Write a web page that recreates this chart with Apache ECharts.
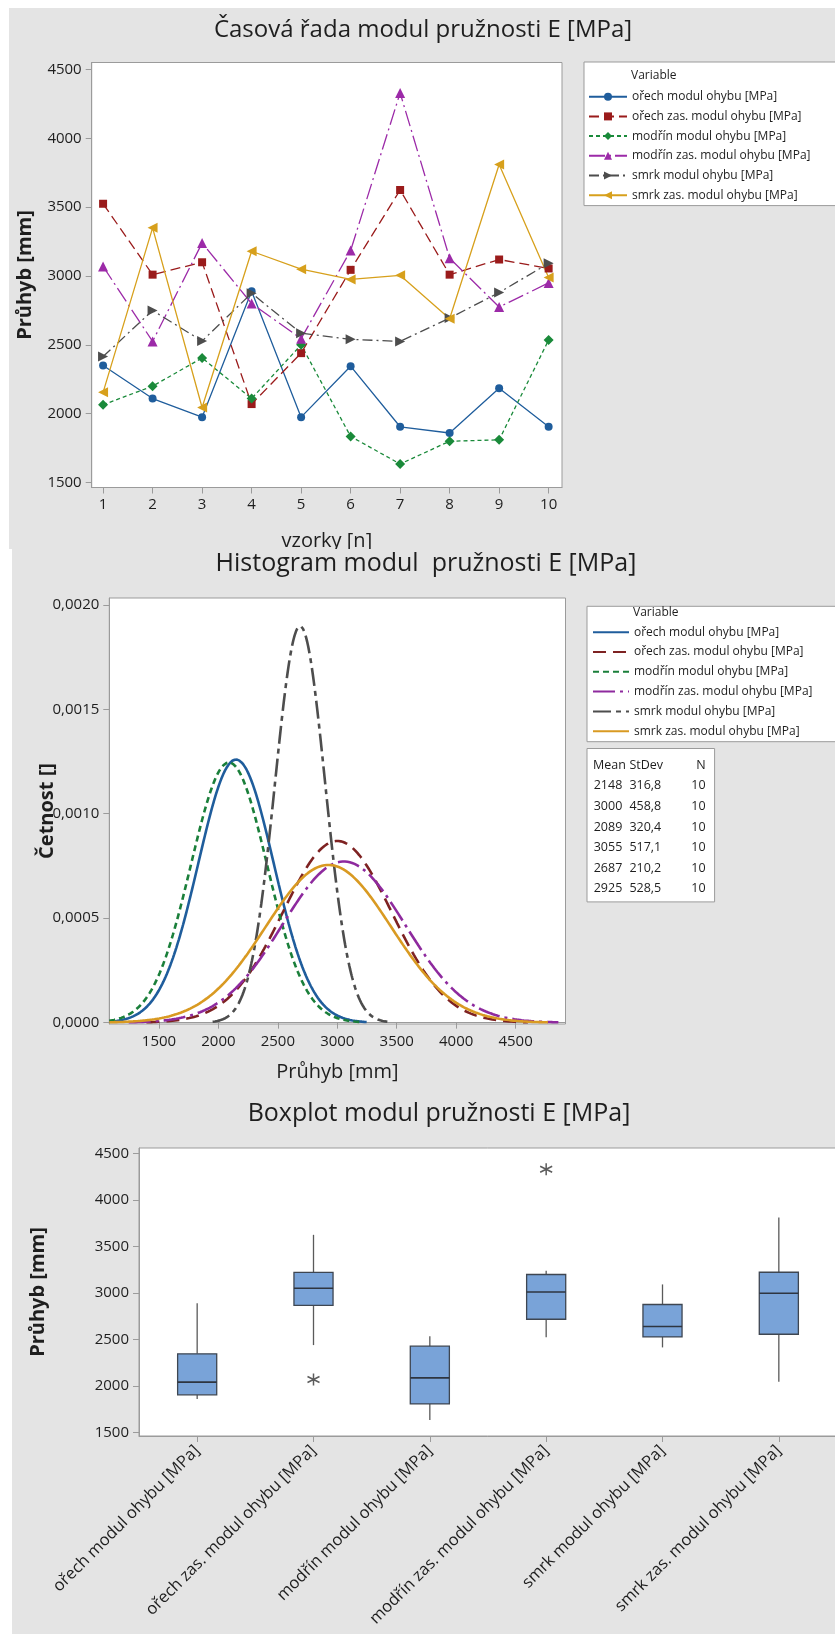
<!DOCTYPE html>
<html>
<head>
<meta charset="utf-8">
<title>Modul pružnosti E [MPa]</title>
<script src="https://cdn.jsdelivr.net/npm/echarts@6/dist/echarts.min.js"></script>
<style>
  html, body { margin: 0; padding: 0; background: #fff; width: 835px; height: 1634px; overflow: hidden; }
  .panel { position: absolute; background: #e4e4e4; }
  #timeSeries { left: 9px; top: 8px; width: 826px; height: 541px; }
  #histogram { left: 12px; top: 549px; width: 823px; height: 540px; }
  #boxplot { left: 12px; top: 1089px; width: 823px; height: 545px; }
</style>
</head>
<body>
<div id="timeSeries" class="panel"></div>
<div id="histogram" class="panel"></div>
<div id="boxplot" class="panel"></div>
<script>
// ---- data ----
const variableNames = [
  'ořech modul ohybu [MPa]',
  'ořech zas. modul ohybu [MPa]',
  'modřín modul ohybu [MPa]',
  'modřín zas. modul ohybu [MPa]',
  'smrk modul ohybu [MPa]',
  'smrk zas. modul ohybu [MPa]'
];
const sampleNo = [1, 2, 3, 4, 5, 6, 7, 8, 9, 10];
const orech     = [2350, 2110, 1975, 2890, 1975, 2345, 1905, 1860, 2185, 1905];
const orechZas  = [3525, 3010, 3100, 2070, 2440, 3045, 3625, 3010, 3120, 3055];
const modrin    = [2065, 2200, 2405, 2110, 2500, 1835, 1635, 1800, 1810, 2535];
const modrinZas = [3070, 2525, 3240, 2800, 2545, 3185, 4330, 3130, 2775, 2950];
const smrk      = [2415, 2750, 2528, 2875, 2585, 2540, 2525, 2695, 2880, 3092];
const smrkZas   = [2155, 3350, 2045, 3180, 3050, 2975, 3005, 2690, 3810, 2990];

// fitted normal parameters (Mean, StDev, N)
const means  = [2148, 3000, 2089, 3055, 2687, 2925];
const stdevs = [316.8, 458.8, 320.4, 517.1, 210.2, 528.5];
const counts = [10, 10, 10, 10, 10, 10];

// tick labels
const modulTicks = [1500, 2000, 2500, 3000, 3500, 4000, 4500];
const histXTicks = [1500, 2000, 2500, 3000, 3500, 4000, 4500];
const histYTicks = [0, 0.0005, 0.001, 0.0015, 0.002];

const measurements = [orech, orechZas, modrin, modrinZas, smrk, smrkZas];

// ---- styles ----
const FONT = "'Open Sans', 'Noto Sans', sans-serif";
const TXT = '#1e1e1e';
const FRAME = '#9b9b9b';
const colors = ['#1f5d9c', '#9a1b1b', '#1a8a3a', '#9c2aa8', '#4d4d4d', '#d7a01c'];
const histColors = ['#1f5d9c', '#7e2222', '#1a7f3a', '#8e2a9e', '#4d4d4d', '#d99a22'];
const markerSymbols = ['circle', 'rect', 'diamond', 'triangle',
  'path://M0,0L10,5L0,10Z', 'path://M10,0L0,5L10,10Z'];
const markerSizes = [8, 8, 10, 10, 10, 10];
const tsDash = ['solid', [10, 5], [4, 3], [16, 4, 2, 4], [10, 4, 2, 4], 'solid'];
const histDash = ['solid', [13, 7], [6, 4], [22, 5, 3, 5], [18, 5, 5, 5], 'solid'];

function axisCommon(ticks, fmt) {
  return {
    nameMoveOverlap: false,
    axisLine: { show: true, lineStyle: { color: FRAME, width: 1 } },
    axisTick: { show: true, length: 6, lineStyle: { color: FRAME }, customValues: ticks },
    axisLabel: { customValues: ticks, fontSize: 15, color: TXT, fontFamily: FONT, margin: 10,
                 formatter: fmt || (v => String(v)) },
    splitLine: { show: false }
  };
}

function plotGrid(left, top, width, height) {
  return { left: left, top: top, width: width, height: height, show: true,
           outerBoundsMode: 'none', containLabel: false,
           backgroundColor: '#fff', borderColor: FRAME, borderWidth: 1 };
}

function titleText(text, x, y, size) {
  return {
    type: 'text', x: x, y: y, z: 10,
    style: { text: text, fontSize: size, fontFamily: FONT, fill: TXT,
             textAlign: 'center', textVerticalAlign: 'middle' }
  };
}

// ---- time series ----
const tsChart = echarts.init(document.getElementById('timeSeries'));
tsChart.setOption({
  animation: false,
  textStyle: { fontFamily: FONT },
  grid: plotGrid(82.7, 54.5, 470.3, 425),
  xAxis: Object.assign({
    type: 'value', min: 0.77, max: 10.27,
    name: 'vzorky [n]', nameLocation: 'middle', nameGap: 44,
    nameTextStyle: { fontSize: 20, color: TXT, fontFamily: FONT }
  }, axisCommon(sampleNo)),
  yAxis: Object.assign({
    type: 'value', min: 1464, max: 4551,
    name: 'Průhyb [mm]', nameLocation: 'middle', nameGap: 56,
    nameTextStyle: { fontSize: 20, fontWeight: 'bold', color: TXT, fontFamily: FONT }
  }, axisCommon(modulTicks)),
  legend: {
    orient: 'vertical', left: 579, top: 81.7, padding: 0,
    itemWidth: 38, itemHeight: 10, itemGap: 5.7,
    textStyle: { fontSize: 12, color: TXT, fontFamily: FONT, lineHeight: 14 },
    data: variableNames
  },
  graphic: [
    titleText('Časová řada modul pružnosti E [MPa]', 414, 21.8, 24),
    { type: 'rect', shape: { x: 575, y: 54, width: 260, height: 143.6 },
      style: { fill: '#fff', stroke: FRAME, lineWidth: 1 }, z: 0 },
    { type: 'text', x: 622, y: 68, z: 10,
      style: { text: 'Variable', fontSize: 12, fontFamily: FONT, fill: TXT,
               textAlign: 'left', textVerticalAlign: 'middle' } }
  ],
  series: variableNames.map((name, i) => ({
    name: name,
    type: 'line',
    data: sampleNo.map((n, k) => [n, measurements[i][k]]),
    symbol: markerSymbols[i],
    symbolSize: markerSizes[i],
    itemStyle: { color: colors[i] },
    lineStyle: { color: colors[i], width: 1.3, type: tsDash[i] }
  }))
});

// ---- histogram (fitted normal curves) ----
const HIST_MIN = 1082, HIST_MAX = 4920;
function normalCurve(mean, sd) {
  const pts = [];
  const from = Math.max(HIST_MIN, mean - 3.5 * sd);
  const to = Math.min(HIST_MAX, mean + 3.5 * sd);
  for (let x = from; x <= to; x += 5) {
    const z = (x - mean) / sd;
    pts.push([x, Math.exp(-0.5 * z * z) / (sd * Math.sqrt(2 * Math.PI))]);
  }
  return pts;
}
const statRows = means.map((m, i) =>
  [String(m), stdevs[i].toFixed(1).replace('.', ','), String(counts[i])]);

const STAT_FONT = 12.5;
function statText(text, x, y, align) {
  return { type: 'text', x: x, y: y, z: 10,
    style: { text: text, fontSize: STAT_FONT, fontFamily: FONT, fill: TXT,
             textAlign: align || 'left', textVerticalAlign: 'middle' } };
}
const statGraphics = [
  { type: 'rect', shape: { x: 575, y: 199.5, width: 127.6, height: 153.4 },
    style: { fill: '#fff', stroke: FRAME, lineWidth: 1 }, z: 0 },
  statText('Mean', 581, 216.5),
  statText('StDev', 617.4, 216.5),
  statText('N', 693.6, 216.5, 'right')
];
statRows.forEach((row, r) => {
  const y = 236.8 + r * 20.6;
  statGraphics.push(statText(row[0], 581.7, y), statText(row[1], 617.4, y),
                    statText(row[2], 693.6, y, 'right'));
});

const histChart = echarts.init(document.getElementById('histogram'));
histChart.setOption({
  animation: false,
  textStyle: { fontFamily: FONT },
  grid: plotGrid(97.3, 49, 456.2, 426),
  xAxis: Object.assign({
    type: 'value', min: HIST_MIN, max: HIST_MAX,
    name: 'Průhyb [mm]', nameLocation: 'middle', nameGap: 38,
    nameTextStyle: { fontSize: 20, color: TXT, fontFamily: FONT }
  }, axisCommon(histXTicks)),
  yAxis: Object.assign({
    type: 'value', min: -0.0000065, max: 0.0020325
  }, axisCommon(histYTicks, v => v.toFixed(4).replace('.', ','))),
  legend: {
    orient: 'vertical', left: 575, top: 71.2,
    itemWidth: 36, itemHeight: 10, itemGap: 5.8,
    itemStyle: { opacity: 0 },
    textStyle: { fontSize: 12, color: TXT, fontFamily: FONT, lineHeight: 14 },
    data: variableNames
  },
  graphic: [
    titleText('Histogram modul  pružnosti E [MPa]', 414, 15, 25),
    // y-axis title
    { type: 'text', x: 35.6, y: 262, rotation: Math.PI / 2, z: 10,
      style: { text: 'Četnost []', fontSize: 20, fontWeight: 'bold', fontFamily: FONT, fill: TXT,
               textAlign: 'center', textVerticalAlign: 'middle' } },
    { type: 'rect', shape: { x: 575, y: 57.3, width: 260, height: 135.4 },
      style: { fill: '#fff', stroke: FRAME, lineWidth: 1 }, z: 0 },
    { type: 'text', x: 621, y: 63.3, z: 10,
      style: { text: 'Variable', fontSize: 12, fontFamily: FONT, fill: TXT,
               textAlign: 'left', textVerticalAlign: 'middle' } }
  ].concat(statGraphics),
  series: variableNames.map((name, i) => ({
    name: name,
    type: 'line',
    data: normalCurve(means[i], stdevs[i]),
    symbol: 'none',
    itemStyle: { color: histColors[i] },
    lineStyle: { color: histColors[i], width: 2.6, type: histDash[i] }
  }))
});

// ---- boxplot (Minitab quartile method, 1.5 IQR whiskers) ----
function quantile(sorted, p) {
  const pos = p * (sorted.length + 1);
  const lo = Math.floor(pos);
  if (lo < 1) return sorted[0];
  if (lo >= sorted.length) return sorted[sorted.length - 1];
  return sorted[lo - 1] + (pos - lo) * (sorted[lo] - sorted[lo - 1]);
}
const boxStats = [];
const outliers = [];
measurements.forEach((vals, i) => {
  const s = vals.slice().sort((a, b) => a - b);
  const q1 = quantile(s, 0.25), med = quantile(s, 0.5), q3 = quantile(s, 0.75);
  const iqr = q3 - q1;
  const inside = s.filter(v => v >= q1 - 1.5 * iqr && v <= q3 + 1.5 * iqr);
  boxStats.push([i, inside[0], q1, med, q3, inside[inside.length - 1]]);
  s.filter(v => v < q1 - 1.5 * iqr || v > q3 + 1.5 * iqr).forEach(v => outliers.push([i, v]));
});

const boxChart = echarts.init(document.getElementById('boxplot'));
boxChart.setOption({
  animation: false,
  textStyle: { fontFamily: FONT },
  grid: plotGrid(127, 59, 698, 288),
  xAxis: {
    type: 'category', data: variableNames, boundaryGap: true,
    axisLine: { show: true, lineStyle: { color: FRAME } },
    axisTick: { show: true, alignWithLabel: true, length: 6, lineStyle: { color: FRAME } },
    axisLabel: { interval: 0, rotate: 45, fontSize: 16.5, color: TXT, fontFamily: FONT, margin: 12 },
    splitLine: { show: false }
  },
  yAxis: Object.assign({
    type: 'value', min: 1463, max: 4558,
    name: 'Průhyb [mm]', nameLocation: 'middle', nameGap: 91,
    nameTextStyle: { fontSize: 20, fontWeight: 'bold', color: TXT, fontFamily: FONT }
  }, axisCommon(modulTicks)),
  graphic: [ titleText('Boxplot modul pružnosti E [MPa]', 427, 24.5, 25) ],
  series: [
    {
      type: 'custom',
      data: boxStats,
      encode: { x: 0, y: [1, 2, 3, 4, 5] },
      renderItem: function (params, api) {
        const idx = api.value(0);
        const lo = api.coord([idx, api.value(1)]);
        const q1 = api.coord([idx, api.value(2)]);
        const md = api.coord([idx, api.value(3)]);
        const q3 = api.coord([idx, api.value(4)]);
        const hi = api.coord([idx, api.value(5)]);
        const half = api.size([1, 0])[0] * 0.168;
        const whisker = { stroke: '#5a5a5a', lineWidth: 1.3 };
        return {
          type: 'group',
          children: [
            { type: 'line', shape: { x1: lo[0], y1: lo[1], x2: q1[0], y2: q1[1] }, style: whisker },
            { type: 'line', shape: { x1: q3[0], y1: q3[1], x2: hi[0], y2: hi[1] }, style: whisker },
            { type: 'rect', shape: { x: q3[0] - half, y: q3[1], width: half * 2, height: q1[1] - q3[1] },
              style: { fill: '#79a3d8', stroke: '#3e4651', lineWidth: 1.3 } },
            { type: 'line', shape: { x1: md[0] - half, y1: md[1], x2: md[0] + half, y2: md[1] },
              style: { stroke: '#2e3540', lineWidth: 1.6 } }
          ]
        };
      }
    },
    {
      type: 'scatter',
      data: outliers,
      symbol: 'path://M5,0L5,10M0.7,2.5L9.3,7.5M0.7,7.5L9.3,2.5',
      symbolSize: 12,
      itemStyle: { color: 'transparent', borderColor: '#333', borderWidth: 1.5 }
    }
  ]
});
</script>
</body>
</html>
